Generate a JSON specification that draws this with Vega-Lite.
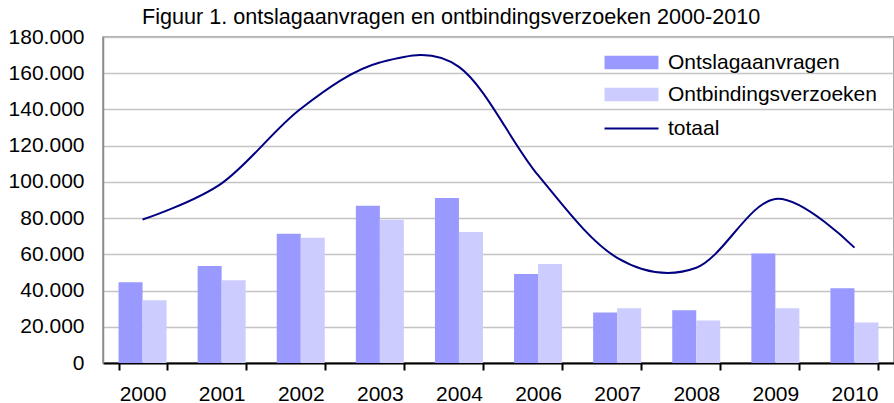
{
  "$schema": "https://vega.github.io/schema/vega-lite/v6.json",
  "width": 791,
  "height": 326,
  "autosize": {"type": "none"},
  "padding": {"left": 103, "top": 37, "right": 0, "bottom": 40},
  "config": {
    "font": "Liberation Sans",
    "view": {"stroke": "#8c8c8c", "strokeWidth": 1.5},
    "background": "white",
    "axisY": {
      "labelFontSize": 21,
      "labelColor": "#000000",
      "labelOverlap": false,
      "ticks": false,
      "labelPadding": 19,
      "domainColor": "#8c8c8c",
      "domainWidth": 1.5,
      "gridColor": "#c4c4c4",
      "gridWidth": 1.5
    }
  },
  "title": {
    "text": "Figuur 1. ontslagaanvragen en ontbindingsverzoeken 2000-2010",
    "anchor": "start",
    "frame": "group",
    "dx": 39,
    "dy": 28,
    "fontSize": 21.6,
    "fontWeight": "normal",
    "color": "#000000",
    "baseline": "alphabetic",
    "offset": 8
  },
  "data": {
    "values": [
      {"year": "2000", "Ontslagaanvragen": 44600, "Ontbindingsverzoeken": 34600, "totaal": 79200},
      {"year": "2001", "Ontslagaanvragen": 53500, "Ontbindingsverzoeken": 45700, "totaal": 99200},
      {"year": "2002", "Ontslagaanvragen": 71300, "Ontbindingsverzoeken": 69100, "totaal": 140400},
      {"year": "2003", "Ontslagaanvragen": 86800, "Ontbindingsverzoeken": 79100, "totaal": 165900},
      {"year": "2004", "Ontslagaanvragen": 91100, "Ontbindingsverzoeken": 72400, "totaal": 163500},
      {"year": "2006", "Ontslagaanvragen": 49100, "Ontbindingsverzoeken": 54600, "totaal": 103700},
      {"year": "2007", "Ontslagaanvragen": 27900, "Ontbindingsverzoeken": 30200, "totaal": 58100},
      {"year": "2008", "Ontslagaanvragen": 29100, "Ontbindingsverzoeken": 23500, "totaal": 52600},
      {"year": "2009", "Ontslagaanvragen": 60400, "Ontbindingsverzoeken": 30200, "totaal": 90600},
      {"year": "2010", "Ontslagaanvragen": 41300, "Ontbindingsverzoeken": 22400, "totaal": 63700}
    ]
  },
  "encoding": {
    "x": {
      "field": "year",
      "type": "nominal",
      "scale": {"paddingInner": 0.393, "paddingOuter": 0.1965},
      "axis": {
        "title": null,
        "labelAngle": 0,
        "labelFontSize": 21,
        "labelColor": "#000000",
        "domainColor": "#000000",
        "domainWidth": 2,
        "tickColor": "#000000",
        "tickWidth": 2,
        "tickSize": 7,
        "tickBand": "extent",
        "labelPadding": 13,
        "labelOverlap": false,
        "grid": false
      }
    }
  },
  "layer": [
    {
      "transform": [{"fold": ["Ontslagaanvragen", "Ontbindingsverzoeken"], "as": ["reeks", "aantal"]}],
      "mark": {"type": "bar"},
      "encoding": {
        "xOffset": {
          "field": "reeks",
          "type": "nominal",
          "sort": ["Ontslagaanvragen", "Ontbindingsverzoeken"],
          "scale": {"paddingInner": 0, "paddingOuter": 0}
        },
        "y": {
          "field": "aantal",
          "type": "quantitative",
          "scale": {"domain": [0, 180000], "nice": false},
          "axis": {
            "title": null,
            "values": [0, 20000, 40000, 60000, 80000, 100000, 120000, 140000, 160000, 180000],
            "labelExpr": "replace(format(datum.value, ','), ',', '.')"
          }
        },
        "fill": {
          "field": "reeks",
          "type": "nominal",
          "scale": {"domain": ["Ontslagaanvragen", "Ontbindingsverzoeken"], "range": ["#9999ff", "#ccccff"]},
          "legend": {
            "orient": "none",
            "legendX": 518,
            "legendY": 15,
            "title": null,
            "padding": 0,
            "symbolType": "M-4,-1H4V1H-4Z",
            "symbolSize": 182,
            "symbolStrokeWidth": 0,
            "labelFontSize": 21,
            "labelColor": "#000000",
            "labelLimit": 400,
            "labelOffset": 26,
            "rowPadding": 10
          }
        }
      }
    },
    {
      "mark": {"type": "line", "interpolate": "cardinal", "tension": 0, "strokeWidth": 2},
      "encoding": {
        "y": {
          "field": "totaal",
          "type": "quantitative",
          "scale": {"domain": [0, 180000], "nice": false},
          "axis": {
            "title": null,
            "values": [0, 20000, 40000, 60000, 80000, 100000, 120000, 140000, 160000, 180000],
            "labelExpr": "replace(format(datum.value, ','), ',', '.')"
          }
        },
        "stroke": {
          "datum": "totaal",
          "scale": {"range": ["#000080"]},
          "legend": {
            "orient": "none",
            "legendX": 518,
            "legendY": 81,
            "title": null,
            "padding": 0,
            "symbolType": "M-4,0H4",
            "symbolSize": 182,
            "symbolStrokeWidth": 2,
            "labelFontSize": 21,
            "labelColor": "#000000",
            "labelLimit": 400,
            "labelOffset": 26
          }
        }
      }
    }
  ]
}
